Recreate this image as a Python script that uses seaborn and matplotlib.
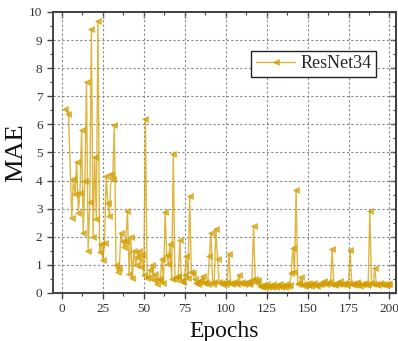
import numpy as np
import pandas as pd
import matplotlib
matplotlib.use("Agg")
import matplotlib.pyplot as plt
import seaborn as sns
from matplotlib.ticker import MultipleLocator

series_name = "ResNet34"
epochs = list(range(1, 201))
mae = [
    np.nan, 6.55, np.nan, 6.38, np.nan, 2.68, 4.05, 3.51, 4.67, 2.86,
    3.57, 5.80, 2.15, 3.99, 7.52, 1.49, 3.22, 9.38, 2.00, 4.85,
    2.63, 9.69, 1.45, 1.75, 1.17, 1.77, 4.17, 3.20, 2.73, 4.22,
    4.06, 5.98, 0.99, 0.76, 0.88, 2.12, 1.86, 1.64, 1.86, 2.92,
    0.67, 2.00, 0.52, 1.50, 0.99, 1.27, 1.50, 0.93, 1.34, 0.62,
    6.18, 0.52, 0.57, 0.80, 0.99, 0.45, 0.67, 0.33, 0.50, 0.45,
    1.22, 0.35, 2.87, 1.34, 1.02, 1.73, 0.50, 4.96, 0.50, 0.56,
    0.60, 1.87, 0.44, 0.38, 0.62, 1.30, 0.52, 3.45, 0.76, 0.70,
    0.50, 0.35, 0.30, 0.40, 0.45, 0.60, 0.35, 0.40, 0.30, 1.32,
    2.15, 0.30, 0.40, 2.29, 1.22, 0.40, 0.35, 0.30, 0.35, 0.30,
    0.40, 1.40, 0.35, 0.30, 0.40, 0.35, 0.30, 0.65, 0.35, 0.40,
    0.30, 0.35, 0.40, 0.30, 0.35, 0.45, 2.37, 0.50, 0.35, 0.47,
    0.25, 0.20, 0.28, 0.22, 0.30, 0.20, 0.26, 0.22, 0.30, 0.24,
    0.20, 0.28, 0.32, 0.22, 0.26, 0.20, 0.30, 0.24, 0.28, 0.70,
    1.60, 0.75, 3.66, 0.30, 0.35, 0.55, 0.30, 0.25, 0.32, 0.28,
    0.35, 0.26, 0.30, 0.34, 0.28, 0.25, 0.32, 0.30, 0.36, 0.43,
    0.30, 0.34, 0.38, 0.30, 1.55, 0.32, 0.28, 0.35, 0.30, 0.43,
    0.33, 0.30, 0.36, 0.28, 0.34, 1.51, 0.30, 0.33, 0.28, 0.38,
    0.30, 0.26, 0.32, 0.30, 0.35, 0.28, 0.32, 2.93, 0.35, 0.30,
    0.87, 0.32, 0.28, 0.34, 0.30, 0.33, 0.28, 0.32, 0.30, 0.33,
]

df = pd.DataFrame({"Epochs": epochs, "MAE": mae})

sns.set_theme(style="white")
plt.rcParams['font.family'] = ['Liberation Serif', 'DejaVu Serif']

fig = plt.figure(figsize=(3.98, 3.41), dpi=100)
ax = fig.add_axes([0.133, 0.141, 0.862, 0.824])

color = '#D39E00'
sns.lineplot(data=df, x="Epochs", y="MAE", ax=ax, color=color, linewidth=1.0,
             alpha=0.75, label=series_name, marker='<', markersize=4.5,
             markeredgecolor=color, markerfacecolor=color, markeredgewidth=0.5)
for l in ax.lines:
    l.set_markerfacecolor(color)

ax.set_xlim(-5.5, 204)
ax.set_ylim(0, 10)
ax.xaxis.set_major_locator(MultipleLocator(25))
ax.xaxis.set_minor_locator(MultipleLocator(12.5))
ax.yaxis.set_major_locator(MultipleLocator(1))
ax.yaxis.set_minor_locator(MultipleLocator(0.5))

ax.grid(True, which='major', linestyle=(0, (2, 2)), color='#888888', linewidth=0.8)
for s in ax.spines.values():
    s.set_color('#444444')
    s.set_linewidth(1.4)

ax.tick_params(axis='both', which='major', direction='out', length=4, width=1.0,
               color='#444444', labelsize=9.5, labelcolor='#333333',
               bottom=True, left=True, top=False, right=False)
ax.tick_params(axis='both', which='minor', direction='out', length=2.5, width=0.8,
               color='#444444', bottom=True, left=True, top=False, right=False)
ax2 = ax.secondary_xaxis('top')
ax2.xaxis.set_major_locator(MultipleLocator(25))
ax2.xaxis.set_minor_locator(MultipleLocator(12.5))
ax2.tick_params(which='major', direction='in', length=4, width=1.0, color='#444444', labeltop=False)
ax2.tick_params(which='minor', direction='in', length=2.5, width=0.8, color='#444444')
ax2.set_xticklabels([])
ax3 = ax.secondary_yaxis('right')
ax3.yaxis.set_major_locator(MultipleLocator(1))
ax3.yaxis.set_minor_locator(MultipleLocator(0.5))
ax3.tick_params(which='major', direction='in', length=4, width=1.0, color='#444444', labelright=False)
ax3.tick_params(which='minor', direction='in', length=2.5, width=0.8, color='#444444')
ax3.set_yticklabels([])

ax.set_xlabel("Epochs", fontsize=17, labelpad=4, color='#111111')
ax.set_ylabel("MAE", fontsize=19, color='#111111')
ax.yaxis.set_label_coords(-0.076, 0.5)

leg = ax.legend(loc='upper right', bbox_to_anchor=(0.943, 0.862), fontsize=13,
                frameon=True, fancybox=False, framealpha=1, edgecolor='#222222',
                handlelength=2.2, borderpad=0.25, handletextpad=0.3,
                borderaxespad=0.0)
leg.get_frame().set_linewidth(1.0)

fig.savefig("out.png", dpi=100)
